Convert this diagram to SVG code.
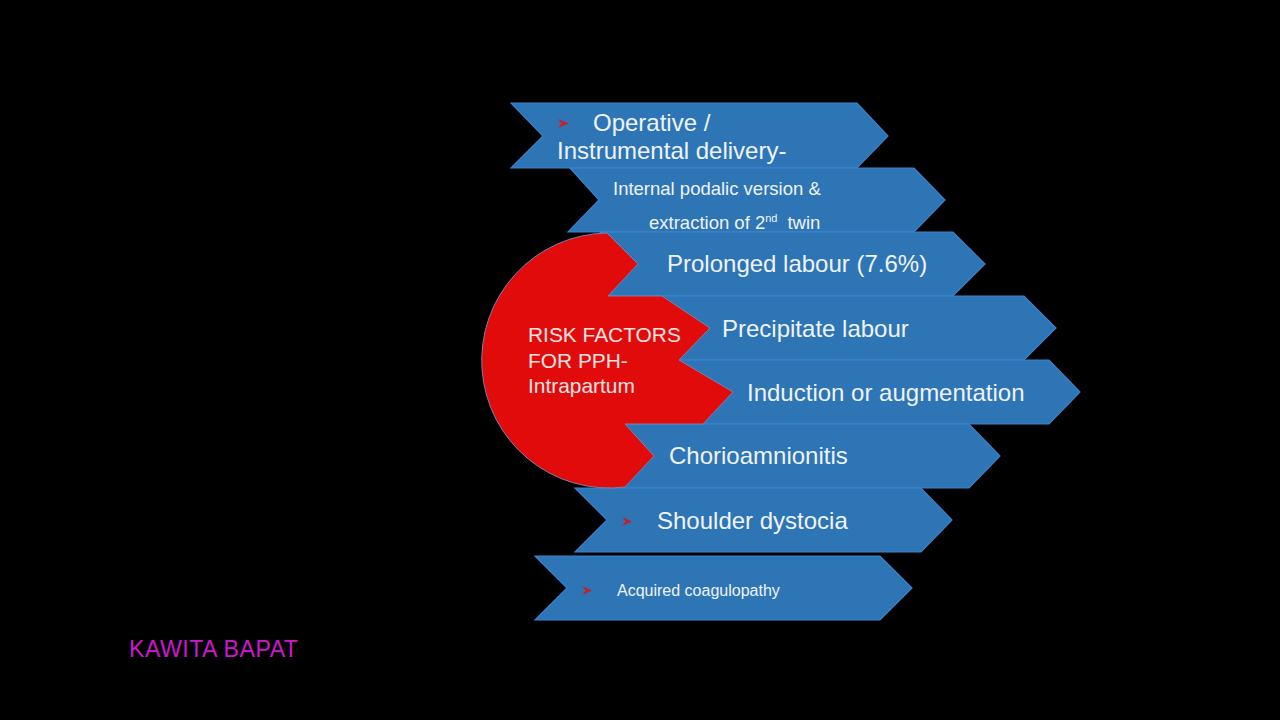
<svg xmlns="http://www.w3.org/2000/svg" width="1280" height="720" viewBox="0 0 1280 720">
<style>
.chev{fill:#2e75b6;stroke:#3b83cf;stroke-width:1.2;stroke-linejoin:miter}
.t{font-family:"Liberation Sans",Arial,sans-serif;fill:#eef3fa}
.big{font-size:24px}
.mid{font-size:18.5px}
.sm{font-size:16px}
.bul{fill:#c8202a}
.risk{font-family:"Liberation Sans",Arial,sans-serif;font-size:20.9px;fill:#f6e4e4}
</style>
<rect x="0" y="0" width="1280" height="720" fill="#000"/>

<g id="n1">
<polygon class="chev" points="511,103 857,103 888,136 857,168 511,168 543,136"/>
<polygon class="bul" points="558,119 569,123.5 558,128 561.5,123.5"/>
<text class="t big" x="593" y="130.5">Operative /</text>
<text class="t big" x="557" y="158.5">Instrumental delivery-</text>
</g>

<g id="n2">
<polygon class="chev" points="570,168 914,168 945,200 914,232 568,232 599,200"/>
<text class="t mid" x="613" y="195">Internal podalic version &amp;</text>
<text class="t mid" x="649" y="228.5">extraction of 2<tspan font-size="11" dy="-7">nd</tspan><tspan dy="7" dx="10">twin</tspan></text>
</g>

<g id="n3">
<polygon class="chev" points="600,232 953,232 985,264 953,296 600,296 632,264"/>
<text class="t big" x="667" y="272">Prolonged labour (7.6%)</text>
</g>

<g id="n4">
<polygon class="chev" points="655,296 1024,296 1056,328 1024,360 655,360 700,328"/>
<text class="t big" x="722" y="337">Precipitate labour</text>
</g>

<g id="n5">
<polygon class="chev" points="675,360 1049,360 1080,392 1049,424 675,424 720,392"/>
<text class="t big" x="747" y="400.5">Induction or augmentation</text>
</g>

<g id="n6">
<polygon class="chev" points="618,424 969,424 1000,456 969,488 618,488 648,456"/>
<text class="t big" x="669" y="464">Chorioamnionitis</text>
</g>

<g id="n7">
<polygon class="chev" points="575,488 921,488 952,520 921,552 575,552 607,520"/>
<polygon class="bul" points="622,517 632,521.5 622,526 625.5,521.5"/>
<text class="t big" x="657" y="528.5">Shoulder dystocia</text>
</g>

<g id="n8">
<polygon class="chev" points="535,556 880,556 912,588 880,620 535,620 567,588"/>
<polygon class="bul" points="582,586 592,590.5 582,595 585.5,590.5"/>
<text class="t sm" x="617" y="596">Acquired coagulopathy</text>
</g>

<g id="center">
<path d="M607,233 L638,264 L608,296 L662,296 L710,328 L679,360 L733,392 L703,424 L625,424 L654,456 L625,487 A127.5 127.5 0 1 1 607,233 Z" fill="#e20b0b" stroke="#7e7fa8" stroke-width="1"/>
<text class="risk" x="528" y="342">RISK FACTORS</text>
<text class="risk" x="528" y="367.5">FOR PPH-</text>
<text class="risk" x="528" y="392.5">Intrapartum</text>
</g>

<g id="author">
<text x="129" y="657" font-family="'Liberation Sans',Arial,sans-serif" font-size="23.2" fill="#cc18cc" textLength="169" lengthAdjust="spacing">KAWITA BAPAT</text>
</g>
</svg>
